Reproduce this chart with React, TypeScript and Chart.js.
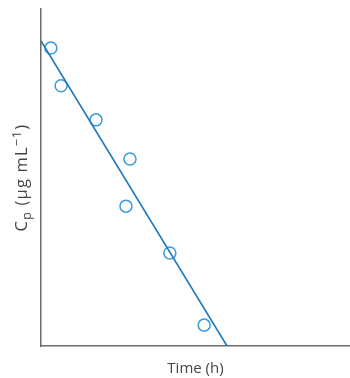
import React, { useEffect, useRef } from "react";
import { Chart, registerables } from "chart.js";

Chart.register(...registerables);

const timeValues = [0.32, 0.65, 1.78, 2.88, 2.75, 4.17, 5.28];
const cpValues = [8.84, 7.72, 6.71, 5.55, 4.15, 2.76, 0.62];
const fitTimes = [0, 6.02];
const fitCp = [9.05, 0];

const xTitle = "Time (h)";
const yTitleParts = [
  { text: "C", shift: 0, scale: 1 },
  { text: "p", shift: 4, scale: 0.75 },
  { text: " (μg mL", shift: 0, scale: 1 },
  { text: "−1", shift: -6, scale: 0.75 },
  { text: ")", shift: 0, scale: 1 },
];

const FONT = "'Open Sans', sans-serif";
const TEXT_COLOR = "#454545";
const TITLE_SIZE = 16.5;

const yTitlePlugin = {
  id: "yTitle",
  afterDraw(chart: any) {
    const ctx = chart.ctx as CanvasRenderingContext2D;
    const area = chart.chartArea;
    ctx.save();
    ctx.fillStyle = TEXT_COLOR;
    ctx.textBaseline = "alphabetic";
    ctx.textAlign = "left";
    const spacing = 1.2;
    let total = 0;
    const widths = yTitleParts.map((p) => {
      ctx.font = `${TITLE_SIZE * p.scale}px ${FONT}`;
      let w = 0;
      for (const ch of p.text) w += ctx.measureText(ch).width + spacing;
      total += w;
      return w;
    });
    const cy = (area.top + area.bottom) / 2;
    ctx.translate(27, cy);
    ctx.rotate(-Math.PI / 2);
    let x = -total / 2;
    yTitleParts.forEach((p, i) => {
      ctx.font = `${TITLE_SIZE * p.scale}px ${FONT}`;
      let cx = x;
      for (const ch of p.text) {
        ctx.fillText(ch, cx, p.shift);
        cx += ctx.measureText(ch).width + spacing;
      }
      x += widths[i];
    });
    ctx.restore();
  },
};

export default function App() {
  const ref = useRef<HTMLCanvasElement | null>(null);
  useEffect(() => {
    if (!ref.current) return;
    const chart = new Chart(ref.current, {
      type: "scatter",
      data: {
        datasets: [
          {
            type: "line",
            data: fitTimes.map((x, i) => ({ x, y: fitCp[i] })),
            borderColor: "#1b78be",
            borderWidth: 1.6,
            pointRadius: 0,
            fill: false,
          },
          {
            type: "scatter",
            data: timeValues.map((x, i) => ({ x, y: cpValues[i] })),
            borderColor: "#3d9ad9",
            backgroundColor: "rgba(0,0,0,0)",
            pointRadius: 6,
            borderWidth: 1.5,
          },
        ],
      },
      options: {
        animation: false,
        responsive: false,
        layout: { padding: { top: 9, right: 0, left: 0, bottom: 0 }, autoPadding: false },
        plugins: { legend: { display: false }, tooltip: { enabled: false } },
        scales: {
          x: {
            type: "linear",
            min: 0,
            max: 10,
            grid: { display: false },
            ticks: { display: false },
            border: { display: true, color: "#6b6b6b", width: 1.5 },
            title: {
              display: true,
              text: xTitle,
              color: TEXT_COLOR,
              font: { family: FONT, size: 15 },
              padding: { top: 5, bottom: 0 },
            },
            afterFit: (s: any) => {
              s.height = 32;
              s.paddingLeft = 0;
              s.paddingRight = 0;
            },
          },
          y: {
            type: "linear",
            min: 0,
            max: 10,
            grid: { display: false },
            ticks: { display: false },
            border: { display: true, color: "#6b6b6b", width: 1.5 },
            title: { display: false },
            afterFit: (s: any) => {
              s.width = 41;
              s.paddingTop = 0;
              s.paddingBottom = 0;
            },
          },
        },
      },
      plugins: [yTitlePlugin],
    });
    return () => chart.destroy();
  }, []);
  return (
    <div style={{ position: "fixed", left: 0, top: 0, width: 350, height: 378, background: "#fff" }}>
      <canvas ref={ref} width={350} height={378} style={{ display: "block" }} />
    </div>
  );
}
